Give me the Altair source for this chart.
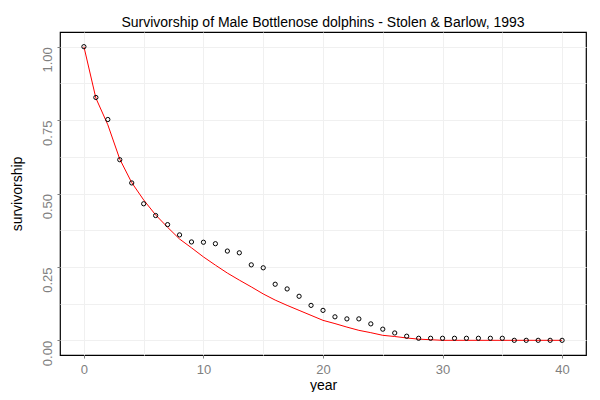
import altair as alt
import pandas as pd

# observed survivorship per year (open points)
years = list(range(0, 41))
observed = [1.0, 0.827, 0.752, 0.615, 0.536, 0.465, 0.425, 0.394, 0.359, 0.335,
            0.334, 0.329, 0.304, 0.298, 0.257, 0.247, 0.191, 0.175, 0.150, 0.119,
            0.102, 0.080, 0.073, 0.073, 0.056, 0.038, 0.025, 0.014, 0.007, 0.007,
            0.007, 0.007, 0.007, 0.007, 0.007, 0.007, 0.0, 0.0, 0.0, 0.0, 0.0]

# fitted curve (red line)
fitted = [1.0, 0.825, 0.734, 0.617, 0.537, 0.478, 0.427, 0.385, 0.345, 0.315,
          0.284, 0.256, 0.229, 0.205, 0.182, 0.158, 0.137, 0.119, 0.102, 0.085,
          0.068, 0.057, 0.045, 0.034, 0.026, 0.017, 0.013, 0.008, 0.004, 0.002,
          0.0, 0.0, 0.0, 0.0, 0.0, 0.0, 0.0, 0.0, 0.0, 0.0, 0.0]

# gridline positions (major + minor)
x_grid = [0, 5, 10, 15, 20, 25, 30, 35, 40]
y_grid = [0, 0.125, 0.25, 0.375, 0.5, 0.625, 0.75, 0.875, 1.0]

df = pd.DataFrame({'year': years, 'observed': observed, 'fitted': fitted})

gray = '#7f7f7f'
grid = '#f0f0f0'

x_axis = alt.Axis(
    values=x_grid, grid=True, gridColor=grid, domain=False,
    labelExpr="datum.value % 10 == 0 ? datum.label : ''",
    tickColor={'condition': {'test': 'datum.value % 10 != 0', 'value': 'transparent'}, 'value': gray},
    tickSize=3, labelColor=gray, labelFontSize=13, labelPadding=5,
    title='year', titleFontSize=14, titleFontWeight='normal', titleColor='black', titlePadding=2)

# y labels rotated, ending at the tick (reading upward)
y_axis = alt.Axis(
    values=y_grid, grid=True, gridColor=grid, domain=False,
    labelExpr="datum.value % 0.25 == 0 ? format(datum.value, '.2f') : ''",
    tickColor={'condition': {'test': 'datum.value % 0.25 != 0', 'value': 'transparent'}, 'value': gray},
    tickSize=3, labelColor=gray, labelFontSize=13, labelAngle=-90,
    labelAlign='right', labelBaseline='bottom', labelPadding=3,
    title='survivorship', titleFontSize=14, titleFontWeight='normal', titleColor='black', titlePadding=17)

x = alt.X('year:Q', scale=alt.Scale(domain=[-2, 42], nice=False, zero=False), axis=x_axis)

line = alt.Chart(df).mark_line(color='red', strokeWidth=1).encode(
    x=x,
    y=alt.Y('fitted:Q', scale=alt.Scale(domain=[-0.05, 1.05], nice=False, zero=False), axis=y_axis))

points = alt.Chart(df).mark_point(shape='circle', filled=False, color='black', size=18, strokeWidth=1, opacity=1).encode(
    x=x,
    y=alt.Y('observed:Q'))

chart = alt.layer(line, points).properties(
    width=526, height=323,
    title=alt.TitleParams('Survivorship of Male Bottlenose dolphins - Stolen & Barlow, 1993',
                          fontSize=14, fontWeight='normal', color='black', anchor='middle', offset=2),
    autosize=alt.AutoSizeParams(type='none'),
    padding={'left': 52, 'top': 24, 'right': 6, 'bottom': 37},
).configure(font='Liberation Sans').configure_view(stroke='black', strokeWidth=1.2)

chart.save("out.html", embed_options={"renderer": "svg", "actions": False})
